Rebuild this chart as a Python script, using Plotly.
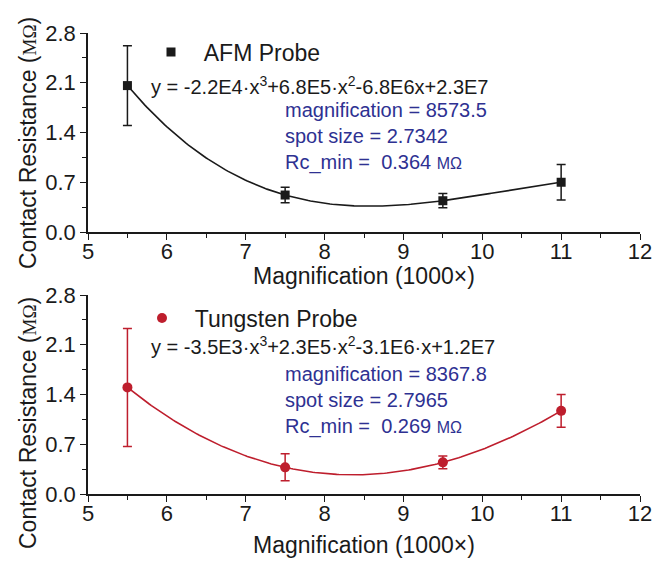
import numpy as np
import plotly.graph_objects as go

# Measured contact resistance (MOhm) vs SEM magnification (x1000)
magnification = [5.5, 7.5, 9.5, 11.0]
afm_resistance = [2.06, 0.52, 0.44, 0.70]
afm_error = [0.56, 0.11, 0.10, 0.25]
tungsten_resistance = [1.50, 0.375, 0.445, 1.17]
tungsten_error = [0.83, 0.19, 0.09, 0.23]

x_ticks = [5, 6, 7, 8, 9, 10, 11, 12]
y_ticks = [0.0, 0.7, 1.4, 2.1, 2.8]

BLACK = "#1a1a1a"
RED = "#BE1E2D"
BLUE = "#2E3192"
FONT = "Liberation Sans, Arial, sans-serif"
W, H = 654, 562


def px(v):
    return v / W


def py(v):
    return 1 - v / H


def cubic_fit(x, y):
    coeffs = np.polyfit(x, y, 3)
    xs = np.linspace(min(x), max(x), 200)
    return xs, np.polyval(coeffs, xs)


fig = go.Figure()

# AFM probe (top panel)
xs, ys = cubic_fit(magnification, afm_resistance)
fig.add_trace(go.Scatter(x=xs, y=ys, mode="lines", line=dict(color=BLACK, width=1.6),
                         showlegend=False, xaxis="x", yaxis="y", hoverinfo="skip"))
fig.add_trace(go.Scatter(
    x=magnification, y=afm_resistance, mode="markers",
    marker=dict(symbol="square", size=9, color=BLACK),
    error_y=dict(type="data", array=afm_error, color=BLACK, thickness=1.5, width=4.5),
    name="\u00a0\u00a0AFM Probe", legend="legend", xaxis="x", yaxis="y"))

# Tungsten probe (bottom panel)
xs, ys = cubic_fit(magnification, tungsten_resistance)
fig.add_trace(go.Scatter(x=xs, y=ys, mode="lines", line=dict(color=RED, width=1.6),
                         showlegend=False, xaxis="x2", yaxis="y2", hoverinfo="skip"))
fig.add_trace(go.Scatter(
    x=magnification, y=tungsten_resistance, mode="markers",
    marker=dict(symbol="circle", size=10, color=RED),
    error_y=dict(type="data", array=tungsten_error, color=RED, thickness=1.5, width=4.5),
    name="\u00a0\u00a0Tungsten Probe", legend="legend2", xaxis="x2", yaxis="y2"))

xdom = [px(88), px(640)]
top_dom = [py(232), py(33)]
bot_dom = [py(494), py(295)]

tick_font = dict(family=FONT, size=22, color=BLACK)


def x_axis(anchor, domain):
    return dict(
        domain=domain, anchor=anchor, range=[5, 12], autorange=False, automargin=False,
        tickmode="array", tickvals=x_ticks, ticktext=[str(t) for t in x_ticks],
        ticks="outside", ticklen=6, tickwidth=1.3, tickcolor=BLACK, ticklabelstandoff=-7,
        minor=dict(ticks="outside", ticklen=4, tickwidth=1.3, tickcolor=BLACK, dtick=0.5, tick0=5),
        showline=True, linecolor=BLACK, linewidth=1.5, showgrid=False, zeroline=False,
        tickfont=tick_font,
    )


def y_axis(anchor, domain):
    return dict(
        domain=domain, anchor=anchor, range=[0, 2.8], autorange=False, automargin=False,
        tickmode="array", tickvals=y_ticks, ticktext=[f"{t:.1f}" for t in y_ticks],
        ticks="outside", ticklen=6, tickwidth=1.3, tickcolor=BLACK,
        minor=dict(ticks="outside", ticklen=4, tickwidth=1.3, tickcolor=BLACK, dtick=0.35, tick0=0),
        showline=True, linecolor=BLACK, linewidth=1.5, showgrid=False, zeroline=False,
        tickfont=tick_font,
    )


def top_axis(over, anchor):
    return dict(
        overlaying=over, anchor=anchor, side="top", range=[5, 12], autorange=False,
        automargin=False, tickmode="array", tickvals=x_ticks, showticklabels=False,
        ticks="inside", ticklen=6, tickwidth=1.3, tickcolor=BLACK,
        minor=dict(ticks="inside", ticklen=4, tickwidth=1.3, tickcolor=BLACK, dtick=0.5, tick0=5),
        showline=True, linecolor=BLACK, linewidth=1.5, showgrid=False, zeroline=False,
    )


def right_axis(over, anchor):
    return dict(
        overlaying=over, anchor=anchor, side="right", range=[0, 2.8], autorange=False,
        automargin=False, tickmode="array", tickvals=y_ticks, showticklabels=False,
        ticks="inside", ticklen=6, tickwidth=1.3, tickcolor=BLACK,
        minor=dict(ticks="inside", ticklen=4, tickwidth=1.3, tickcolor=BLACK, dtick=0.35, tick0=0),
        showline=True, linecolor=BLACK, linewidth=1.5, showgrid=False, zeroline=False,
    )


annotations = []

# Axis titles
y_title = ("Contact Resistance (<span style='font-family:Liberation Serif;font-size:19px'>MΩ</span>)")
for yc in (143, 423):
    annotations.append(dict(
        text=y_title, xref="paper", yref="paper", x=px(28), y=py(yc),
        xanchor="center", yanchor="middle", textangle=-90, showarrow=False,
        font=dict(family=FONT, size=23, color=BLACK)))
for yc in (276, 545):
    annotations.append(dict(
        text="Magnification (1000×)", xref="paper", yref="paper", x=px(364), y=py(yc),
        xanchor="center", yanchor="middle", showarrow=False,
        font=dict(family=FONT, size=23, color=BLACK)))

# Fitted polynomial equations
equations = [
    ("y = -2.2E4·x<sup>3</sup>+6.8E5·x<sup>2</sup>-6.8E6x+2.3E7", 85),
    ("y = -3.5E3·x<sup>3</sup>+2.3E5·x<sup>2</sup>-3.1E6·x+1.2E7", 345),
]
for txt, yc in equations:
    annotations.append(dict(
        text=txt, xref="paper", yref="paper", x=px(149), y=py(yc),
        xanchor="left", yanchor="middle", showarrow=False,
        font=dict(family=FONT, size=20, color=BLACK)))

# Fit minimum summaries
ohm = "<span style='font-size:16px'>MΩ</span>"
fit_notes = [
    (f"magnification = 8573.5<br>spot size = 2.7342<br>Rc_min =\u00a0\u00a00.364 {ohm}", 137),
    (f"magnification = 8367.8<br>spot size = 2.7965<br>Rc_min =\u00a0\u00a00.269 {ohm}", 400),
]
for txt, yc in fit_notes:
    annotations.append(dict(
        text=txt, xref="paper", yref="paper", x=px(283), y=py(yc),
        xanchor="left", yanchor="middle", align="left", showarrow=False,
        font=dict(family=FONT, size=20, color=BLUE)))

legend_style = dict(font=dict(family=FONT, size=23, color=BLACK), bgcolor="rgba(0,0,0,0)",
                    xanchor="left", yanchor="middle", itemclick=False)

fig.update_layout(
    template="none",
    width=W, height=H,
    margin=dict(l=0, r=0, t=0, b=0, pad=0),
    paper_bgcolor="white", plot_bgcolor="white",
    font=dict(family=FONT, color=BLACK),
    xaxis=x_axis("y", xdom),
    yaxis=y_axis("x", top_dom),
    xaxis2=x_axis("y2", xdom),
    yaxis2=y_axis("x2", bot_dom),
    xaxis3=top_axis("x", "y"),
    yaxis3=right_axis("y", "x"),
    xaxis4=top_axis("x2", "y2"),
    yaxis4=right_axis("y2", "x2"),
    legend=dict(x=px(151), y=py(52), **legend_style),
    legend2=dict(x=px(142), y=py(318), **legend_style),
    annotations=annotations,
    showlegend=True,
)

fig.write_html("out.html")
